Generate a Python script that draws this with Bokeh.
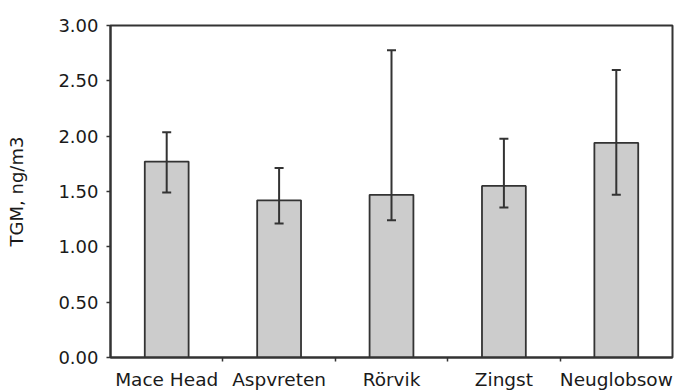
from bokeh.plotting import figure
from bokeh.models import ColumnDataSource, Range1d, FixedTicker, Whisker, TeeHead, NumeralTickFormatter
from bokeh.embed import file_html
from bokeh.resources import INLINE

sites = ["Mace Head", "Aspvreten", "Rörvik", "Zingst", "Neuglobsow"]
tgm_mean = [1.77, 1.42, 1.47, 1.55, 1.94]
tgm_low = [1.49, 1.21, 1.24, 1.355, 1.47]
tgm_high = [2.035, 1.713, 2.776, 1.976, 2.597]
y_ticks = [0.0, 0.5, 1.0, 1.5, 2.0, 2.5, 3.0]

centers = [i + 0.5 for i in range(len(sites))]
bounds = [i + 1 for i in range(len(sites) - 1)]

src = ColumnDataSource(dict(x=centers, top=tgm_mean, lower=tgm_low, upper=tgm_high))

FONT = "DejaVu Sans"
DARK = "#333333"
TXT = "#1a1a1a"

p = figure(width=677, height=392, output_backend="svg", toolbar_location=None,
           x_range=Range1d(0, len(sites)), y_range=Range1d(0, 3),
           min_border_left=110, min_border_right=5, min_border_top=25, min_border_bottom=32)
p.background_fill_color = "#ffffff"
p.border_fill_color = "#ffffff"
p.outline_line_color = DARK
p.outline_line_width = 2
p.xgrid.visible = False
p.ygrid.visible = False

p.vbar(x="x", top="top", bottom=0, width=0.39, source=src,
       fill_color="#cccccc", line_color=DARK, line_width=1.8)

w = Whisker(base="x", lower="lower", upper="upper", source=src, dimension="height",
            line_color=DARK, line_width=2, level="overlay",
            upper_head=TeeHead(size=9, line_color=DARK, line_width=2),
            lower_head=TeeHead(size=9, line_color=DARK, line_width=2))
p.add_layout(w)

xa = p.xaxis[0]
xa.ticker = FixedTicker(ticks=centers, minor_ticks=bounds)
xa.major_label_overrides = {c: s for c, s in zip(centers, sites)}
xa.major_tick_out = 0
xa.major_tick_in = 0
xa.minor_tick_out = 4
xa.minor_tick_in = 0
xa.minor_tick_line_color = DARK
xa.minor_tick_line_width = 1.5
xa.axis_line_color = DARK
xa.axis_line_width = 2
xa.major_label_text_font = FONT
xa.major_label_text_font_size = "18.5px"
xa.major_label_text_color = TXT
xa.major_label_standoff = 7

ya = p.yaxis[0]
ya.ticker = FixedTicker(ticks=y_ticks, minor_ticks=[])
ya.formatter = NumeralTickFormatter(format="0.00")
ya.major_tick_out = 4
ya.major_tick_in = 0
ya.major_tick_line_color = DARK
ya.major_tick_line_width = 1.5
ya.axis_line_color = DARK
ya.axis_line_width = 2
ya.major_label_text_font = FONT
ya.major_label_text_font_size = "18px"
ya.major_label_text_color = TXT
ya.major_label_standoff = 8
ya.axis_label = "TGM, ng/m3"
ya.axis_label_text_font = FONT
ya.axis_label_text_font_size = "18px"
ya.axis_label_text_font_style = "normal"
ya.axis_label_text_color = TXT
ya.axis_label_standoff = 28

open("out.html", "w").write(file_html(p, INLINE))
